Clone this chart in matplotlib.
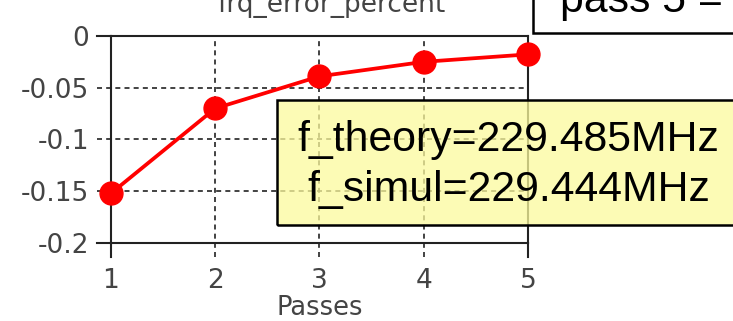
import matplotlib
matplotlib.use("Agg")
import matplotlib.pyplot as plt
from matplotlib.patches import Rectangle
import matplotlib.transforms as mtransforms

plt.rcParams['axes.unicode_minus'] = False

# values
passes = [1, 2, 3, 4, 5]
frq_error = [-0.152, -0.070, -0.039, -0.025, -0.0178]
yticks = [0, -0.05, -0.1, -0.15, -0.2]
ytick_labels = ['0', '-0.05', '-0.1', '-0.15', '-0.2']
title = 'frq_error_percent'
xlabel = 'Passes'
info_lines = ['f_theory=229.485MHz', 'f_simul=229.444MHz']
pass_text = 'pass 5 ='

fig = plt.figure(figsize=(7.33, 3.21), dpi=100)
ax = fig.add_axes([0.1514, 0.243, 0.5689, 0.645])

ax.plot(passes, frq_error, color='#ff0000', lw=2.7, marker='o', ms=16.5,
        zorder=5, clip_on=False)

ax.set_xlim(1, 5)
ax.set_ylim(-0.2, 0)
ax.set_xticks(passes)
ax.set_yticks(yticks)
ax.set_yticklabels(ytick_labels)
ax.tick_params(length=0, labelsize=19, labelcolor='#444444')
ax.tick_params(axis='y', pad=16)
ax.tick_params(axis='x', pad=18)
for s in ax.spines.values():
    s.set_linewidth(1.5)
    s.set_color('#222222')

# grid lines that run past the axes like the original
tx = mtransforms.blended_transform_factory(ax.transData, ax.transAxes)
ty = mtransforms.blended_transform_factory(ax.transAxes, ax.transData)
for x in passes:
    edge = x in (passes[0], passes[-1])
    ax.plot([x, x], [-0.068, 0 if edge else 1], transform=tx, clip_on=False,
            color='#222222', lw=1.5 if edge else 1.2,
            ls='-' if edge else (0, (3, 2.5)), zorder=1)
for y in yticks:
    edge = y in (yticks[0], yticks[-1])
    ax.plot([-0.034, 0 if edge else 1], [y, y], transform=ty, clip_on=False,
            color='#222222', lw=1.5 if edge else 1.2,
            ls='-' if edge else (0, (3, 2.5)), zorder=1)

ax.set_xlabel(xlabel, fontsize=18.5, color='#444444', labelpad=0.5)
fig.text(0.452, 0.963, title, ha='center', va='baseline', fontsize=19,
         color='#444444')

# yellow info box
fig.patches.append(Rectangle((0.378, 0.299), 0.7, 0.3895, transform=fig.transFigure,
                             facecolor='#fcfa9c', alpha=0.75, edgecolor='none',
                             zorder=10))
fig.patches.append(Rectangle((0.378, 0.299), 0.7, 0.3895, transform=fig.transFigure,
                             facecolor='none', edgecolor='black', lw=1.8, zorder=11))
fig.text(0.694, 0.564, info_lines[0], ha='center', va='center', fontsize=30.8,
         family='Liberation Sans', zorder=12)
fig.text(0.694, 0.408, info_lines[1], ha='center', va='center', fontsize=30.8,
         family='Liberation Sans', zorder=12)

# pass box at top right (cut off)
fig.patches.append(Rectangle((0.727, 0.897), 0.4, 0.3, transform=fig.transFigure,
                             facecolor='white', edgecolor='black', lw=1.8, zorder=10))
fig.text(0.764, 0.963, pass_text, ha='left', va='baseline', fontsize=30.8,
         family='Liberation Sans', zorder=12)

fig.savefig('out.png', dpi=100)
